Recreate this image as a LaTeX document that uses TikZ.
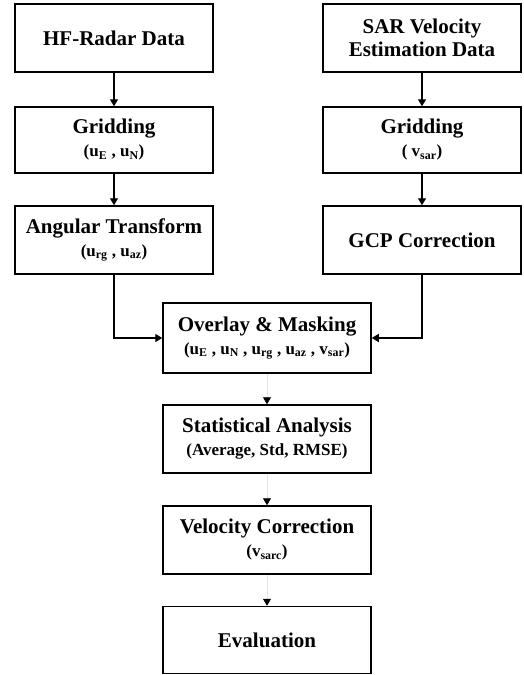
\documentclass[tikz,border=0pt]{standalone}
\usepackage{fontspec}
\setmainfont{Liberation Serif}
\usetikzlibrary{arrows.meta}
\newcommand{\sublabel}[1]{{\fontsize{17}{20}\selectfont #1}}

\begin{document}
\begin{tikzpicture}[x=1pt,y=-1pt,
  box/.style={draw,line width=1.5pt,minimum width=198pt,minimum height=68pt,
    font=\fontsize{21}{23}\bfseries,align=center,inner sep=2pt},
  wbox/.style={box,minimum width=208pt},
  link/.style={line width=1.4pt,-{Triangle[length=7pt,width=8pt]}},
  faint/.style={line width=0.6pt,draw=black!10,-{Triangle[length=7pt,width=8pt,color=black]}}]
  \useasboundingbox (0,0) rectangle (524,675);
  % left column
  \node[box] (hf) at (114,38) {HF-Radar Data};
  \node[box,minimum height=66pt] (grl) at (114,140) {Gridding\\\sublabel{(u\textsubscript{E} , u\textsubscript{N})}};
  \node[box] (ang) at (114,240) {Angular Transform\\\sublabel{(u\textsubscript{rg} , u\textsubscript{az})}};
  % right column
  \node[box] (sar) at (422,38) {SAR Velocity\\Estimation Data};
  \node[box,minimum height=66pt] (grr) at (422,140) {Gridding\\\sublabel{( v\textsubscript{sar})}};
  \node[box] (gcp) at (422,240) {GCP Correction};
  % centre column
  \node[wbox,minimum height=70pt] (ovl) at (267,338) {Overlay \& Masking\\\sublabel{(u\textsubscript{E} , u\textsubscript{N} , u\textsubscript{rg} , u\textsubscript{az} , v\textsubscript{sar})}};
  \node[wbox] (sta) at (267,439) {Statistical Analysis\\\sublabel{(Average, Std, RMSE)}};
  \node[wbox] (vel) at (267,540) {Velocity Correction\\\sublabel{(v\textsubscript{sarc})}};
  \node[wbox,minimum height=67pt] (evl) at (267,640) {Evaluation};
  \draw[link] (hf) -- (grl);
  \draw[link] (grl) -- (ang);
  \draw[link] (sar) -- (grr);
  \draw[link] (grr) -- (gcp);
  \draw[link] (ang.south) |- (ovl.west);
  \draw[link] (gcp.south) |- (ovl.east);
  \draw[faint] (ovl) -- (sta);
  \draw[faint] (sta) -- (vel);
  \draw[faint] (vel) -- (evl);
\end{tikzpicture}
\end{document}
